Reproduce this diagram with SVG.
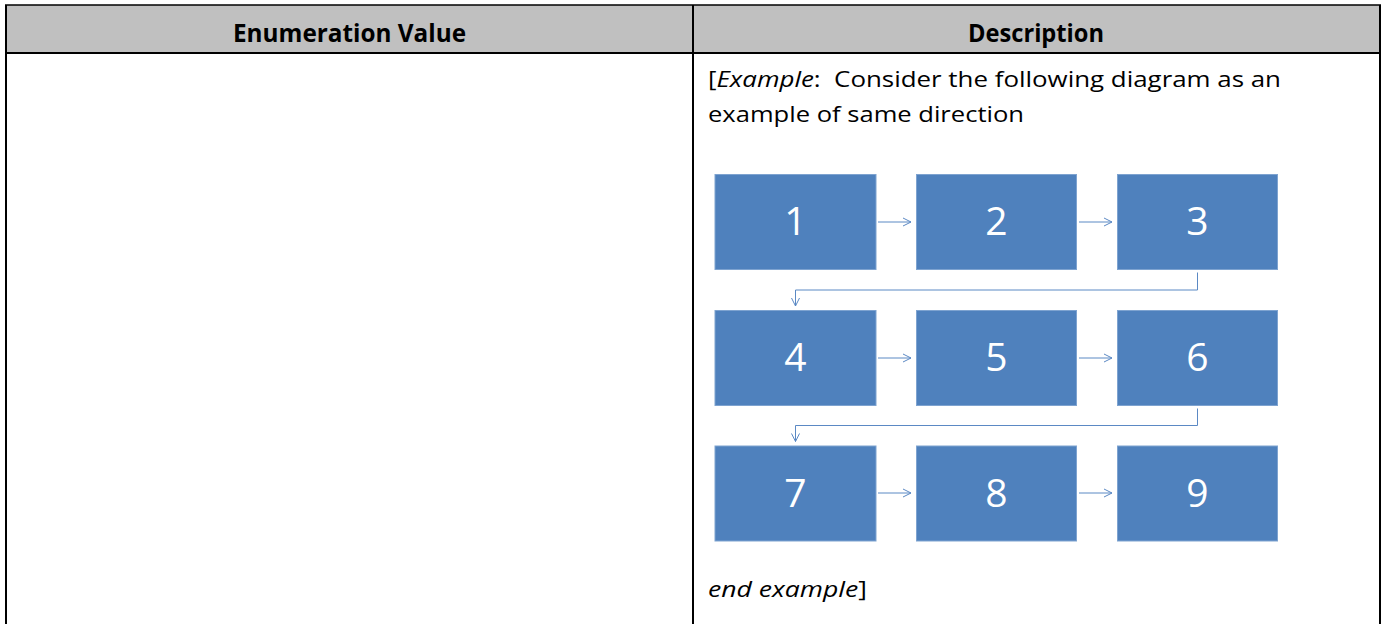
<svg xmlns="http://www.w3.org/2000/svg" width="1382" height="624" viewBox="0 0 1382 624">
<style>
.hdr{font-family:"Open Sans","Noto Sans",sans-serif;font-weight:bold;font-size:25px;fill:#000;}
.body{font-family:"Open Sans","Noto Sans",sans-serif;font-size:21.5px;fill:#000;}
.box{fill:#4f81bd;stroke:#7ea3d0;stroke-width:1;}
.num{font-family:"Open Sans","Noto Sans",sans-serif;font-size:39px;fill:#fff;text-anchor:middle;}
.con{fill:none;stroke:#5b89c4;stroke-width:1;}
.rule{stroke:#000;stroke-width:2;}
</style>
<defs>
<marker id="arr" viewBox="0 0 10 10" refX="9" refY="5" markerWidth="10" markerHeight="10" markerUnits="userSpaceOnUse" orient="auto">
<path d="M1,1 L9,5 L1,9" fill="none" stroke="#5b89c4" stroke-width="1"/>
</marker>
</defs>
<rect width="1382" height="624" fill="#fff"/>
<g id="table">
<rect x="6" y="5" width="1374" height="48" fill="#c0c0c0"/>
<line class="rule" x1="5" y1="5" x2="1381" y2="5" style="stroke-width:1.5"/>
<line class="rule" x1="6" y1="5" x2="6" y2="624"/>
<line class="rule" x1="693" y1="5" x2="693" y2="624"/>
<line class="rule" x1="1380" y1="5" x2="1380" y2="624"/>
<line class="rule" x1="5" y1="53" x2="1381" y2="53"/>
<text class="hdr" x="349.5" y="41.5" text-anchor="middle" textLength="233" lengthAdjust="spacingAndGlyphs">Enumeration Value</text>
<text class="hdr" x="1036" y="41.5" text-anchor="middle" textLength="136" lengthAdjust="spacingAndGlyphs">Description</text>
<text class="body" x="708" y="87" textLength="573" lengthAdjust="spacingAndGlyphs">[<tspan font-style="italic">Example</tspan>:&#160; Consider the following diagram as an</text>
<text class="body" x="708" y="122" textLength="316" lengthAdjust="spacingAndGlyphs">example of same direction</text>
<text class="body" x="708" y="597" textLength="159" lengthAdjust="spacingAndGlyphs"><tspan font-style="italic">end example</tspan>]</text>
</g>
<g id="connectors">
<line class="con" x1="878" y1="222" x2="911" y2="222" marker-end="url(#arr)"/>
<line class="con" x1="1079" y1="222" x2="1112" y2="222" marker-end="url(#arr)"/>
<line class="con" x1="878" y1="358" x2="911" y2="358" marker-end="url(#arr)"/>
<line class="con" x1="1079" y1="358" x2="1112" y2="358" marker-end="url(#arr)"/>
<line class="con" x1="878" y1="493" x2="911" y2="493" marker-end="url(#arr)"/>
<line class="con" x1="1079" y1="493" x2="1112" y2="493" marker-end="url(#arr)"/>
<polyline class="con" points="1197.5,272.5 1197.5,290 795.5,290 795.5,306" marker-end="url(#arr)"/>
<polyline class="con" points="1197.5,408.5 1197.5,425.5 795.5,425.5 795.5,441.5" marker-end="url(#arr)"/>
</g>
<g id="n1"><rect class="box" x="715" y="174.5" width="161" height="95"/><text class="num" x="795.5" y="235">1</text></g>
<g id="n2"><rect class="box" x="916.5" y="174.5" width="160" height="95"/><text class="num" x="996.5" y="235">2</text></g>
<g id="n3"><rect class="box" x="1117.5" y="174.5" width="160" height="95"/><text class="num" x="1197.5" y="235">3</text></g>
<g id="n4"><rect class="box" x="715" y="310.5" width="161" height="95"/><text class="num" x="795.5" y="371">4</text></g>
<g id="n5"><rect class="box" x="916.5" y="310.5" width="160" height="95"/><text class="num" x="996.5" y="371">5</text></g>
<g id="n6"><rect class="box" x="1117.5" y="310.5" width="160" height="95"/><text class="num" x="1197.5" y="371">6</text></g>
<g id="n7"><rect class="box" x="715" y="446" width="161" height="95"/><text class="num" x="795.5" y="506.5">7</text></g>
<g id="n8"><rect class="box" x="916.5" y="446" width="160" height="95"/><text class="num" x="996.5" y="506.5">8</text></g>
<g id="n9"><rect class="box" x="1117.5" y="446" width="160" height="95"/><text class="num" x="1197.5" y="506.5">9</text></g>
</svg>
